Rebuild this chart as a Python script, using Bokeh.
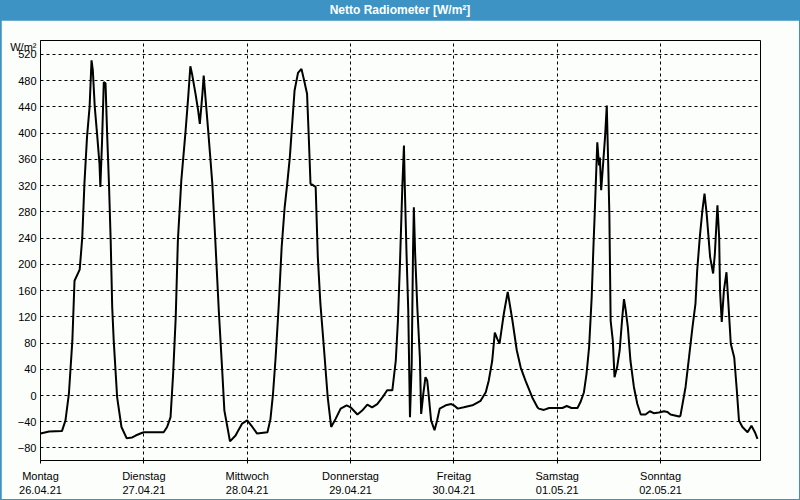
from bokeh.plotting import figure
from bokeh.models import FixedTicker, Div, Range1d
from bokeh.layouts import column
from bokeh.embed import file_html
from bokeh.resources import INLINE

# time in hours since Monday 26.04.21 00:00, net radiation in W/m²
hours = [0, 2, 5, 5.8, 6.6, 7.4, 7.9, 9.1, 9.7, 10.2, 10.8, 11.4, 11.85, 12.15, 12.6, 13.2,
         13.7, 13.9, 14.3, 14.7, 15.1, 15.5, 15.9, 16.3, 16.65, 17.0, 17.8, 18.8, 20.0, 21.3,
         22.1, 23.2, 24.0, 28.6, 29.4, 30.2, 30.8, 31.4, 31.9, 32.7, 33.7, 34.3, 34.8, 35.2,
         36.0, 36.6, 37.0, 37.6, 37.9, 38.3, 39.0, 39.9, 40.6, 41.4, 42.2, 42.7, 43.4, 44.0,
         45.3, 45.7, 46.8, 48.0, 49.2, 50.3, 52.7, 53.4, 54.0, 54.6, 55.3, 56.0, 56.7, 57.3,
         57.9, 58.5, 59.0, 59.8, 60.6, 61.3, 61.9, 62.3, 62.7, 63.9, 64.4, 65.0, 65.8, 66.7,
         67.5, 68.5, 69.7, 71.1, 72.0, 73.6, 74.7, 75.9, 77.0, 78.2, 79.4, 80.5, 81.7, 82.5,
         83.0, 83.5, 84.0, 84.4, 84.6, 85.0, 85.4, 85.8, 86.2, 86.5, 86.7, 87.0, 87.5, 88.1,
         88.4, 88.9, 89.4, 89.8, 90.2, 90.7, 91.5, 92.1, 92.7, 94.1, 95.4, 96.0, 96.9, 98.3,
         100.3, 102.2, 103.4, 104.1, 104.9, 105.5, 106.1, 106.6, 107.6, 108.5, 109.6, 110.6,
         111.5, 112.6, 114.2, 115.4, 115.7, 116.9, 118.1, 121.2, 122.2, 123.3, 124.7, 125.4,
         126.2, 126.8, 127.4, 128.0, 128.4, 128.7, 129.3, 129.7, 129.9, 130.2, 130.7, 131.1,
         131.5, 131.8, 132.1, 132.4, 132.9, 133.3, 133.9, 134.5, 135.1, 135.5, 135.9, 136.4,
         137.0, 137.8, 138.6, 139.4, 140.5, 141.5, 142.4, 143.6, 144.8, 145.6, 146.3, 148.3,
         148.6, 149.8, 150.6, 151.4, 152.1, 152.5, 153.1, 153.7, 154.2, 154.7, 155.5, 156.2,
         156.6, 157.2, 157.6, 157.8, 158.2, 158.7, 159.3, 159.7, 160.3, 161.1, 161.7, 162.2,
         163.0, 164.2, 165.1, 165.9, 166.5]
values = [-58, -55, -54, -38, 3, 84, 175, 192, 241, 323, 394, 440, 511, 496, 440, 394,
          353, 318, 389, 478, 476, 394, 323, 236, 135, 84, -3, -48, -65, -64,
          -61, -58, -56, -56, -48, -33, 33, 119, 236, 328, 404, 455, 502, 490,
          460, 435, 414, 460, 488, 455, 399, 323, 236, 130, 38, -23, -48, -70,
          -61, -56, -43, -38, -48, -58, -56, -36, 3, 58, 135, 226, 287, 323,
          363, 419, 465, 492, 498, 478, 460, 394, 323, 318, 211, 140, 74, -3,
          -48, -36, -20, -15, -18, -29, -23, -14, -18, -13, -3, 8, 8, 53,
          114, 206, 313, 381, 318, 216, 130, -33, 48, 216, 287, 216, 135, 58,
          -28, 3, 28, 23, -3, -38, -53, -38, -20, -15, -13, -15, -20, -18,
          -15, -8, 5, 23, 53, 96, 86, 79, 125, 158, 114, 69,
          43, 23, -3, -18, -20, -22, -19, -19, -16, -19, -19, -10,
          5, 33, 74, 150, 226, 277, 386, 351, 363, 313, 358, 394,
          442, 363, 277, 114, 84, 28, 43, 69, 119, 147, 130, 104,
          53, 13, -13, -29, -29, -24, -27, -26, -24, -25, -29, -32,
          -31, 13, 58, 104, 140, 191, 241, 282, 308, 277, 211, 186,
          216, 290, 241, 160, 112, 160, 188, 145, 79, 58, 8, -38,
          -48, -56, -46, -56, -66]

day_ticks = [0, 24, 48, 72, 96, 120, 144]
day_names = ["Montag", "Dienstag", "Mittwoch", "Donnerstag", "Freitag", "Samstag", "Sonntag"]
day_dates = ["26.04.21", "27.04.21", "28.04.21", "29.04.21", "30.04.21", "01.05.21", "02.05.21"]
y_ticks = [-80, -40, 0, 40, 80, 120, 160, 200, 240, 280, 320, 360, 400, 440, 480, 520]
unit_label = "W/m²"
unit_pos = 531

BLUE = "#3d93c4"
BG = "#fcfefc"
FONT = "Liberation Sans"

p = figure(width=798, height=479, x_range=Range1d(0, 167.2), y_range=Range1d(-99.1, 541.3),
           output_backend="svg", toolbar_location=None,
           min_border_left=39, min_border_right=39, min_border_top=20, min_border_bottom=39)
p.margin = (0, 1, 1, 1)
p.background_fill_color = BG
p.border_fill_color = BG
p.outline_line_color = "black"
p.outline_line_width = 1

p.line(hours, values, line_color="black", line_width=2)

p.xaxis.ticker = FixedTicker(ticks=day_ticks)
p.xaxis.major_label_overrides = {t: f"{n}\n{d}" for t, n, d in zip(day_ticks, day_names, day_dates)}
p.xaxis.minor_tick_line_color = None
p.xaxis.major_tick_out = 3
p.xaxis.major_tick_in = 0
p.xaxis.major_label_standoff = 6
p.xaxis.major_label_text_font = FONT
p.xaxis.major_label_text_font_size = "11px"
p.xaxis.major_label_text_color = "black"
p.xaxis.axis_line_color = "black"

p.yaxis.ticker = FixedTicker(ticks=y_ticks + [unit_pos])
p.yaxis.major_label_overrides = {unit_pos: unit_label}
p.yaxis.minor_tick_line_color = None
p.yaxis.major_tick_out = 0
p.yaxis.major_tick_in = 0
p.yaxis.major_label_standoff = 4
p.yaxis.major_label_text_font = FONT
p.yaxis.major_label_text_font_size = "11px"
p.yaxis.major_label_text_color = "black"
p.yaxis.axis_line_color = "black"

p.xgrid.ticker = FixedTicker(ticks=day_ticks)
p.ygrid.ticker = FixedTicker(ticks=y_ticks)
for g in (p.xgrid, p.ygrid):
    g.grid_line_color = "black"
    g.grid_line_dash = "3 3"
    g.grid_line_width = 1

title = Div(text="Netto Radiometer [W/m²]", width=800, height=20,
            styles={"background-color": BLUE, "color": "white", "font-family": "Liberation Sans Narrow, Liberation Sans",
                    "font-weight": "bold", "font-size": "12px", "text-align": "center",
                    "line-height": "20px", "margin": "0", "padding": "0"})

layout = column(title, p, styles={"background-color": BLUE})

open("out.html", "w").write(file_html(layout, INLINE))
